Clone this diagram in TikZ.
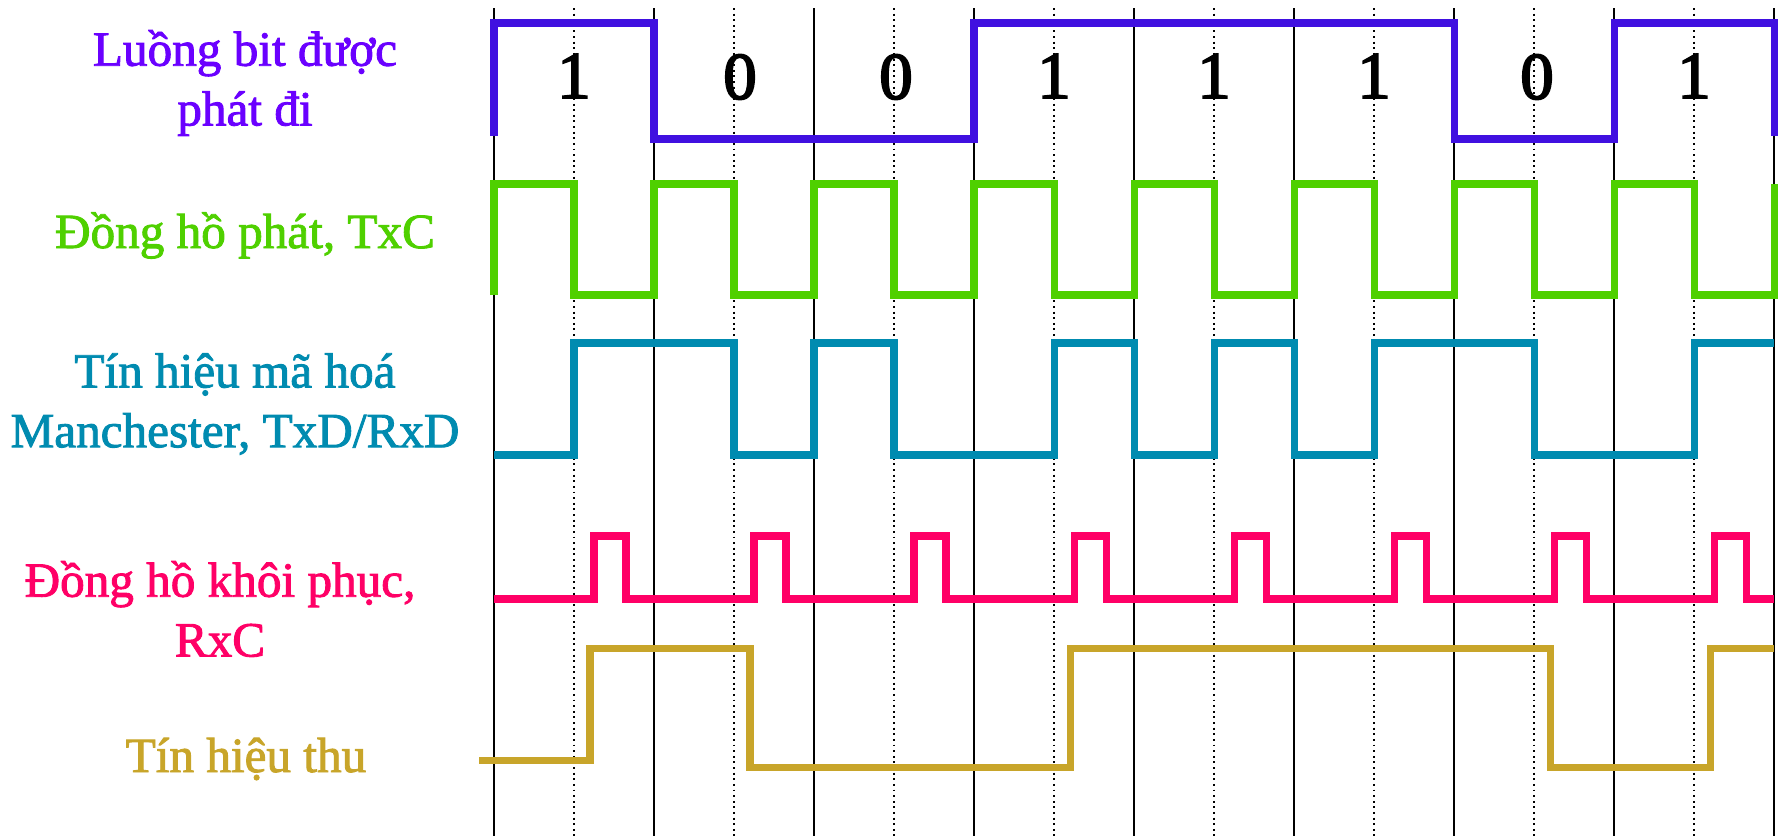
\documentclass[tikz,border=0pt]{standalone}
\usepackage{fontspec}
\setmainfont{Liberation Serif}
\newfontfamily\sigfont[FakeBold=1.8]{Liberation Serif}
\newfontfamily\bitfont[FakeBold=2.8]{Liberation Serif}
\usepackage{xcolor}
\usepackage{tikz}
\usetikzlibrary{positioning}

\definecolor{bitcol}{HTML}{4010E0}
\definecolor{bittxt}{HTML}{6A00FF}
\definecolor{txccol}{HTML}{4FD000}
\definecolor{txdcol}{HTML}{008BB0}
\definecolor{rxccol}{HTML}{FF0066}
\definecolor{rxcol}{HTML}{C8A52A}

\begin{document}
\begin{tikzpicture}[
    x=0.02cm, y=-0.02cm,
    bitsep/.style={black, line width=1.1pt},
    halfsep/.style={black, line width=1.1pt, dash pattern=on 1.1pt off 2.1pt},
    wave/.style={line width=4pt, line join=miter},
    lbl/.style={align=center, font=\sigfont\fontsize{28}{34}\selectfont},
    bitval/.style={inner sep=0pt, font=\bitfont\fontsize{38}{40}\selectfont}
]
\useasboundingbox (0,0) rectangle (1781,836);

% Bit boundaries and half-bit marks
\foreach \x in {494,654,...,1774}
    \draw[bitsep] (\x,8) -- (\x,836);
\foreach \x in {574,734,...,1694}
    \draw[halfsep] (\x,8) -- (\x,836);

% Signal names
\node[lbl, text=bittxt] (lblTx) at (245,83) {Luồng bit được\\phát đi};
\node[lbl, text=txccol, anchor=base] (lblTxC) at (245,248) {Đồng hồ phát, TxC};
\node[lbl, text=txdcol] (lblTxD) at (235,404) {Tín hiệu mã hoá\\Manchester, TxD/RxD};
\node[lbl, text=rxccol] (lblRxC) at (220,609) {Đồng hồ khôi phục,\\RxC};
\node[lbl, text=rxcol, anchor=base] (lblRx) at (246,772) {Tín hiệu thu};

% Bit values
\node[bitval] (b1) at (574,76) {1};
\node[bitval] (b2) at (740,77) {0};
\node[bitval] (b3) at (896,77) {0};
\node[bitval] (b4) at (1054,76) {1};
\node[bitval] (b5) at (1214,76) {1};
\node[bitval] (b6) at (1374,76) {1};
\node[bitval] (b7) at (1537,77) {0};
\node[bitval] (b8) at (1694,76) {1};

% Transmitted bit stream
\draw[wave, bitcol] (494,136) -- (494,23) -- (654,23) -- (654,139) -- (974,139)
    -- (974,23) -- (1454,23) -- (1454,139) -- (1614,139) -- (1614,23)
    -- (1774,23) -- (1774,136);

% Transmit clock
\draw[wave, txccol] (494,295) \foreach \k in {0,...,7} {
    -- ++(0,-111) -- ++(80,0) -- ++(0,111) -- ++(80,0) } -- ++(0,-111);

% Manchester line signal
\draw[wave, txdcol] (494,455) -- (574,455) -- (574,343) -- (734,343) -- (734,455)
    -- (814,455) -- (814,343) -- (894,343) -- (894,455) -- (1054,455)
    -- (1054,343) -- (1134,343) -- (1134,455) -- (1214,455) -- (1214,343)
    -- (1294,343) -- (1294,455) -- (1374,455) -- (1374,343) -- (1534,343)
    -- (1534,455) -- (1694,455) -- (1694,343) -- (1774,343);

% Recovered clock
\draw[wave, rxccol] (494,599) \foreach \d in {574,734,...,1694} {
    -- (\d+20,599) -- (\d+20,536) -- (\d+52,536) -- (\d+52,599) } -- (1774,599);

% Received data
\draw[wave, rxcol] (479,760) -- (590,760) -- (590,648) -- (750,648) -- (750,767)
    -- (1070,767) -- (1070,648) -- (1550,648) -- (1550,767) -- (1710,767)
    -- (1710,648) -- (1774,648);
\end{tikzpicture}
\end{document}
